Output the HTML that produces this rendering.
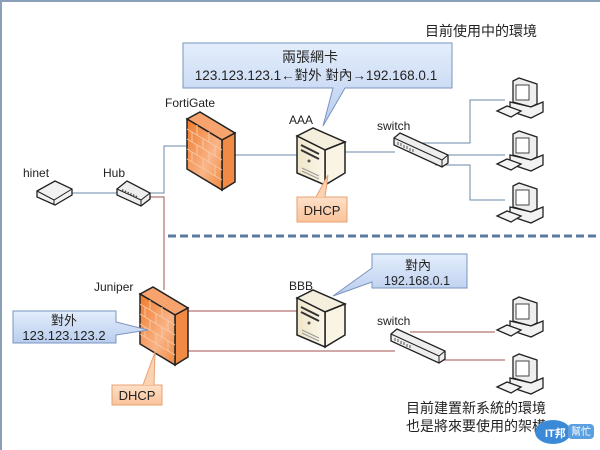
<!DOCTYPE html>
<html><head><meta charset="utf-8"><style>
html,body{margin:0;padding:0;background:#fff}
svg{display:block}
text{font-family:"Liberation Sans","Noto Sans CJK TC",sans-serif;fill:#222}
</style></head><body>
<svg width="600" height="450" viewBox="0 0 600 450" xmlns="http://www.w3.org/2000/svg">
<defs>
<linearGradient id="cb" x1="0" y1="0" x2="0" y2="1"><stop offset="0" stop-color="#e4eefc"/><stop offset="1" stop-color="#b9cdee"/></linearGradient>
<linearGradient id="fw" x1="0" y1="0" x2="1" y2="1"><stop offset="0" stop-color="#f07a2a"/><stop offset="0.6" stop-color="#f9b488"/><stop offset="1" stop-color="#f08a40"/></linearGradient>
<linearGradient id="sv" x1="0" y1="0" x2="1" y2="0"><stop offset="0" stop-color="#efe5c8"/><stop offset="1" stop-color="#fbf7ea"/></linearGradient>
<linearGradient id="og" x1="0" y1="0" x2="0" y2="1"><stop offset="0" stop-color="#fde0c8"/><stop offset="1" stop-color="#f9c39a"/></linearGradient>
<g id="firewall">
 <polygon points="0,7 13,0 48,21 35,28" fill="#f6a36e" stroke="#222" stroke-width="1.5"/>
 <polygon points="35,28 48,21 48,70 35,78" fill="#f08a45" stroke="#222" stroke-width="1.5"/>
 <polygon points="0,7 35,28 35,78 0,57" fill="url(#fw)" stroke="#222" stroke-width="1.5"/>
 <g stroke="#f8c8a4" stroke-width="1" fill="none">
  <path d="M0,17 L35,38 M0,27 L35,48 M0,37 L35,58 M0,47 L35,68"/>
  <path d="M10,13 L10,23 M22,20 L22,30 M5,20 L5,30 M16,27 L16,37 M28,34 L28,44 M10,33 L10,43 M22,40 L22,50 M5,40 L5,50 M16,47 L16,57 M28,54 L28,64"/>
 </g>
</g>
<g id="server">
 <polygon points="0,8 16,0 48,14 28,22" fill="#f4eedc" stroke="#222" stroke-width="1.5"/>
 <polygon points="28,22 48,14 48,45 28,57" fill="#f9f4e4" stroke="#222" stroke-width="1.5"/>
 <polygon points="0,8 28,22 28,57 0,45" fill="url(#sv)" stroke="#222" stroke-width="1.5"/>
 <path d="M4,17 L22,26 M4,22 L22,31" stroke="#333" stroke-width="2"/>
 <circle cx="12" cy="33" r="1.5" fill="#555"/>
 <path d="M5,40 L22,48 M5,43 L22,51" stroke="#999"/>
</g>
<g id="pc">
 <polygon points="18,3 24,0 42,6 42,26 36,29 18,24" fill="#eee" stroke="#222" stroke-width="1.3"/>
 <rect x="21" y="7" width="13" height="15" fill="#fff" stroke="#444"/>
 <polygon points="15,24 36,29 48,24 48,34 36,40 15,33" fill="#f2f2f2" stroke="#222" stroke-width="1.3"/>
 <polygon points="2,33 12,28 26,33 16,39" fill="#f4f4f4" stroke="#222" stroke-width="1.3"/>
</g>
<g id="switch">
 <polygon points="0,5 6,0 54,22 54,30 48,34 0,12" fill="#eee" stroke="#222" stroke-width="1.3"/>
 <path d="M0,5 L48,27 L54,22 M48,27 L48,34" stroke="#222" fill="none" stroke-width="1"/>
 <path d="M4,9 L4,12 M7,10 L7,13 M10,12 L10,15 M13,13 L13,16 M16,15 L16,18 M19,16 L19,19" stroke="#555"/>
</g>
</defs>
<rect x="0" y="0" width="600" height="2" fill="#8aa0b8"/>
<rect x="0" y="0" width="2" height="450" fill="#8aa0b8"/>

<text x="425" y="36" font-size="14">目前使用中的環境</text>

<!-- lines top -->
<g stroke="#6a8aa6" stroke-width="1" fill="none">
 <path d="M70,193 L117,193"/>
 <path d="M150,193 L164,193 L164,146 L188,146"/>
 <path d="M235,155 L298,155"/>
 <path d="M345,152 L395,152"/>
 <path d="M420,143 L470,143 L470,100 L505,100 M435,155 L505,155 M435,165 L470,165 L470,200 L505,200"/>
</g>
<g stroke="#a05050" stroke-width="1" fill="none">
 <path d="M150,197 L164,197 L164,290"/>
 <path d="M188,311 L298,311"/>
 <path d="M188,351 L395,351"/>
 <path d="M410,332 L495,332 M440,360 L505,360"/>
</g>
<line x1="168" y1="236" x2="598" y2="236" stroke="#5a7a9e" stroke-width="3" stroke-dasharray="8,4"/>

<!-- top callout -->
<path d="M183,43 L452,43 L452,88 L345,88 L323,126 L333,88 L183,88 Z" fill="url(#cb)" stroke="#7a94c0" stroke-width="1"/>
<text x="310" y="62" font-size="14" text-anchor="middle">兩張網卡</text>
<text x="316" y="80" font-size="13.5" text-anchor="middle">123.123.123.1←對外 對內→192.168.0.1</text>

<!-- hinet / hub -->
<text x="23" y="177" font-size="12">hinet</text>
<text x="103" y="177" font-size="12">Hub</text>
<g transform="translate(37,181)">
 <polygon points="0,10 18,0 35,8 35,14 18,24 0,16" fill="#f2f2f2" stroke="#222" stroke-width="1.3"/>
 <path d="M0,10 L17,19 L35,8 M17,19 L17,24" stroke="#222" fill="none"/>
</g>
<g transform="translate(117,181)">
 <polygon points="0,8 10,0 33,12 33,18 24,25 0,14" fill="#eee" stroke="#222" stroke-width="1.3"/>
 <path d="M0,8 L24,19 L33,12 M24,19 L24,25" stroke="#222" fill="none"/>
 <path d="M5,9 L20,16" stroke="#555" stroke-dasharray="1.5,1.5" stroke-width="2"/>
</g>

<text x="165" y="107" font-size="12">FortiGate</text>
<use href="#firewall" transform="translate(187,112)"/>

<text x="289" y="124" font-size="12">AAA</text>
<use href="#server" transform="translate(297,128)"/>
<path d="M297,197 L347,197 L347,222 L297,222 Z" fill="url(#og)" stroke="#e8a070"/>
<path d="M316,197 L328,175 L325,197" fill="#fbd3b2" stroke="#e8a070"/>
<text x="322" y="215" font-size="13" text-anchor="middle">DHCP</text>

<text x="377" y="130" font-size="12">switch</text>
<use href="#switch" transform="translate(394,133)"/>

<use href="#pc" transform="translate(495,78)"/>
<use href="#pc" transform="translate(495,131)"/>
<use href="#pc" transform="translate(495,183)"/>

<!-- bottom -->
<text x="94" y="291" font-size="12">Juniper</text>
<use href="#firewall" transform="translate(140,287)"/>
<path d="M13,311 L116,311 L116,322 L148,330 L116,335 L116,343 L13,343 Z" fill="url(#cb)" stroke="#7a94c0"/>
<text x="64" y="325" font-size="13" text-anchor="middle">對外</text>
<text x="64" y="340" font-size="13" text-anchor="middle">123.123.123.2</text>
<path d="M112,385 L162,385 L162,405 L112,405 Z" fill="url(#og)" stroke="#e8a070"/>
<path d="M143,385 L155,352 L154,385" fill="#fbd3b2" stroke="#e8a070"/>
<text x="137" y="400" font-size="13" text-anchor="middle">DHCP</text>

<text x="289" y="290" font-size="12">BBB</text>
<use href="#server" transform="translate(297,290)"/>
<path d="M372,254 L467,254 L467,288 L372,288 L372,282 L333,296 L372,268 Z" fill="url(#cb)" stroke="#7a94c0"/>
<text x="405" y="270" font-size="13">對內</text>
<text x="384" y="285" font-size="12.5">192.168.0.1</text>

<text x="377" y="325" font-size="12">switch</text>
<use href="#switch" transform="translate(391,329)"/>

<use href="#pc" transform="translate(495,297)"/>
<use href="#pc" transform="translate(495,354)"/>

<text x="406" y="413" font-size="14">目前建置新系統的環境</text>
<text x="406" y="431" font-size="14">也是將來要使用的架構</text>

<!-- logo -->
<ellipse cx="553" cy="432" rx="18" ry="12" fill="#3a8ad8"/>
<text x="545" y="437" font-size="11" font-weight="bold" style="fill:#fff">IT邦</text>
<rect x="568" y="424" width="26" height="15" rx="4" fill="#5aa0e0"/>
<text x="571" y="435" font-size="10" style="fill:#fff">幫忙</text>
</svg>
</body></html>
